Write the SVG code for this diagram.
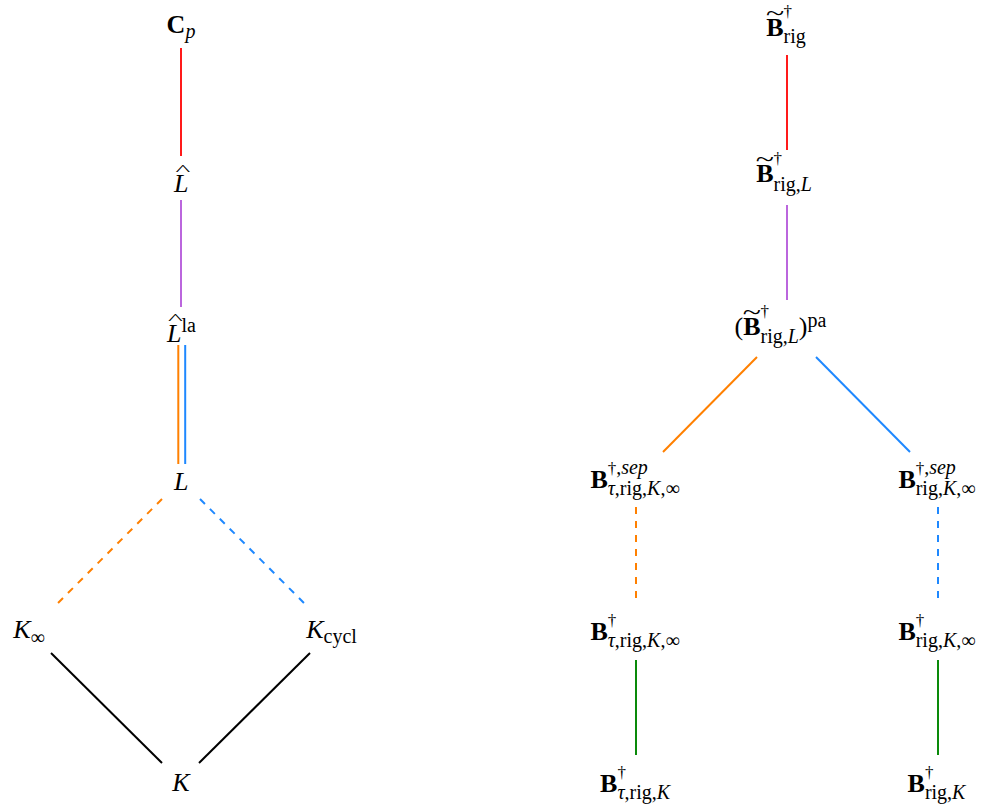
<svg xmlns="http://www.w3.org/2000/svg" width="989" height="805" viewBox="0 0 989 805">
<style>
text{font-family:"Liberation Serif","Times New Roman",serif;fill:#000}
.m{font-size:26px}
.s{font-size:20px}
.dg{font-size:17px}
.b{font-weight:bold}
.i{font-style:italic}
.hat{font-size:15px}
.til{font-size:24px}
.ln{fill:none;stroke-width:2}
.d{stroke-dasharray:7 7}
.red{stroke:#ff1a1a}.pur{stroke:#bb66dd}.org{stroke:#ff8000}.blu{stroke:#1e88ff}.grn{stroke:#0a8a0a}.blk{stroke:#000}
</style>
<rect width="989" height="805" fill="#fff"/>
<g id="connectors">
<line class="ln red" x1="181" y1="48" x2="181" y2="156"/>
<line class="ln pur" x1="181" y1="200" x2="181" y2="307"/>
<line class="ln org" x1="178.3" y1="345" x2="178.3" y2="464"/>
<line class="ln blu" x1="185.2" y1="345" x2="185.2" y2="464"/>
<line class="ln org d" x1="162" y1="499" x2="55" y2="606"/>
<line class="ln blu d" x1="200" y1="499" x2="307" y2="606"/>
<line class="ln blk" x1="51" y1="653" x2="162" y2="763"/>
<line class="ln blk" x1="310" y1="653" x2="199" y2="763"/>
<line class="ln red" x1="787" y1="55" x2="787" y2="150"/>
<line class="ln pur" x1="787" y1="205" x2="787" y2="300"/>
<line class="ln org" x1="757" y1="357" x2="663" y2="452"/>
<line class="ln blu" x1="816" y1="357" x2="910" y2="452"/>
<line class="ln org d" x1="636" y1="507" x2="636" y2="598"/>
<line class="ln blu d" x1="938" y1="507" x2="938" y2="598"/>
<line class="ln grn" x1="636" y1="660" x2="636" y2="755"/>
<line class="ln grn" x1="938" y1="660" x2="938" y2="755"/>
</g>
<g id="n-Cp"><text class="m b" x="166.6" y="33">C</text><text class="s i" x="185.4" y="38">p</text></g>
<g id="n-Lhat"><text class="m i" x="174" y="192">L</text><text class="hat" transform="translate(183 174.5) scale(2.1 1)" text-anchor="middle">^</text></g>
<g id="n-Lhatla"><text class="m i" x="167" y="342">L</text><text class="hat" transform="translate(175.5 323.5) scale(2.1 1)" text-anchor="middle">^</text><text class="s" x="181.5" y="332">la</text></g>
<g id="n-L"><text class="m i" x="174" y="490">L</text></g>
<g id="n-Kinf"><text class="m i" x="13.2" y="638">K</text><text class="s" x="30.5" y="644">∞</text></g>
<g id="n-Kcycl"><text class="m i" x="306.2" y="638">K</text><text class="s" x="323.5" y="643">cycl</text></g>
<g id="n-K"><text class="m i" x="172.3" y="791">K</text></g>
<g id="n-Brig"><text class="m b" x="766.2" y="36">B</text><text class="til" transform="translate(775 21.4) scale(1.4 1)" text-anchor="middle">~</text><text class="dg" x="783.5" y="16.5">†</text><text class="s" x="783.5" y="43">rig</text></g>
<g id="n-BrigL"><text class="m b" x="756.2" y="182">B</text><text class="til" transform="translate(764.9 167.4) scale(1.4 1)" text-anchor="middle">~</text><text class="dg" x="773.5" y="163.5">†</text><text class="s" x="773.5" y="191">rig,<tspan class="i">L</tspan></text></g>
<g id="n-BrigLpa"><text class="m" x="734.5" y="335">(<tspan class="b">B</tspan><tspan class="s" dy="8">rig,</tspan><tspan class="s i">L</tspan><tspan dy="-8">)</tspan><tspan class="s" dy="-8">pa</tspan></text><text class="til" transform="translate(751.9 320.4) scale(1.4 1)" text-anchor="middle">~</text><text class="dg" x="760.5" y="316.5">†</text></g>
<g id="n-Bsep-tau"><text class="m b" x="590.4" y="488">B</text><text class="s" x="607.7" y="474"><tspan class="dg">†</tspan>,<tspan class="i">sep</tspan></text><text class="s" x="607.7" y="494.5"><tspan class="i">τ</tspan>,rig,<tspan class="i">K</tspan>,∞</text></g>
<g id="n-Bsep"><text class="m b" x="898.4" y="488">B</text><text class="s" x="915.7" y="474"><tspan class="dg">†</tspan>,<tspan class="i">sep</tspan></text><text class="s" x="915.7" y="494.5">rig,<tspan class="i">K</tspan>,∞</text></g>
<g id="n-B-tau-inf"><text class="m b" x="590.4" y="640">B</text><text class="dg" x="607.7" y="626">†</text><text class="s" x="607.7" y="646.5"><tspan class="i">τ</tspan>,rig,<tspan class="i">K</tspan>,∞</text></g>
<g id="n-B-inf"><text class="m b" x="898.4" y="640">B</text><text class="dg" x="915.7" y="626">†</text><text class="s" x="915.7" y="646.5">rig,<tspan class="i">K</tspan>,∞</text></g>
<g id="n-B-tau-K"><text class="m b" x="600.1" y="792">B</text><text class="dg" x="617.4" y="778">†</text><text class="s" x="617.4" y="798.5"><tspan class="i">τ</tspan>,rig,<tspan class="i">K</tspan></text></g>
<g id="n-B-K"><text class="m b" x="907.6" y="792">B</text><text class="dg" x="924.9" y="778">†</text><text class="s" x="924.9" y="798.5">rig,<tspan class="i">K</tspan></text></g>
</svg>
